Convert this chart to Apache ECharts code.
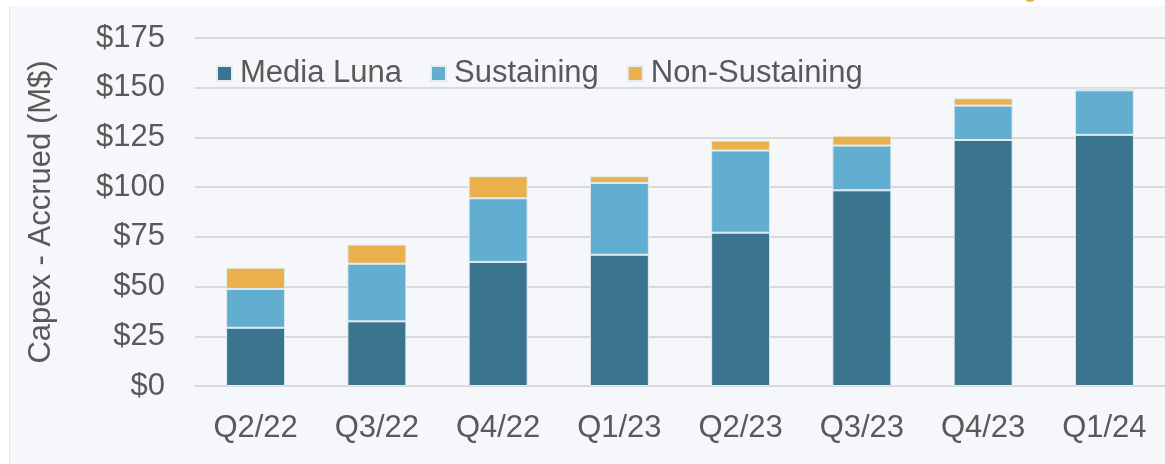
<!DOCTYPE html>
<html>
<head>
<meta charset="utf-8">
<script src="https://cdn.jsdelivr.net/npm/echarts@6/dist/echarts.min.js"></script>
<style>
  html, body { margin: 0; padding: 0; background: #ffffff; }
  #panel { position: absolute; left: 9px; top: 6px; width: 1156px; height: 458px; background: #f6f7fb; border-left: 1px solid #e3e5ea; }
  #chart { position: absolute; left: 0; top: 0; width: 1165px; height: 464px; }
</style>
</head>
<body>
<div id="panel"></div>
<div id="chart"></div>
<script>
// quarters
const quarters = ['Q2/22', 'Q3/22', 'Q4/22', 'Q1/23', 'Q2/23', 'Q3/23', 'Q4/23', 'Q1/24'];
// capex accrued, M$
const mediaLuna     = [29.3, 32.5, 62.4, 66.0, 77.1, 98.4, 123.7, 126.3];
const sustaining    = [19.5, 29.0, 32.0, 36.1, 41.3, 22.5, 17.3, 22.4];
const nonSustaining = [10.7, 9.6, 11.1, 3.4, 5.0, 5.0, 3.7, 1.2];

const textColor = '#595959';
const font = 'Liberation Sans, Arial, sans-serif';

let myChart = echarts.init(document.getElementById('chart'));

function barSeries(name, data, color) {
  return {
    name: name,
    type: 'bar',
    stack: 'capex',
    barWidth: 59,
    data: data,
    itemStyle: { color: color, borderColor: '#e2ecf2', borderWidth: 1 }
  };
}

myChart.setOption({
  backgroundColor: 'transparent',
  animation: false,
  textStyle: { fontFamily: font },
  graphic: [{
    type: 'circle',
    shape: { cx: 1030, cy: -5, r: 7 },
    style: { fill: '#ebb04e' }
  }],
  legend: {
    left: 211,
    top: 53,
    itemWidth: 15,
    itemHeight: 15,
    itemGap: 28,
    icon: 'rect',
    textStyle: { color: textColor, fontSize: 31, fontFamily: font, padding: [0, 0, 0, 3] },
    data: ['Media Luna', 'Sustaining', 'Non-Sustaining']
  },
  grid: {
    left: 195,
    right: 0,
    top: 38,
    bottom: 78
  },
  xAxis: {
    type: 'category',
    data: quarters,
    axisLine: { lineStyle: { color: '#d9d9d9', width: 2 } },
    axisTick: { show: false },
    axisLabel: { color: textColor, fontSize: 31, margin: 27, fontFamily: font }
  },
  yAxis: {
    type: 'value',
    min: 0,
    max: 175,
    interval: 25,
    name: 'Capex - Accrued (M$)',
    nameLocation: 'middle',
    nameGap: 138,
    nameTextStyle: { color: textColor, fontSize: 31, fontFamily: font },
    axisLabel: { color: textColor, fontSize: 31, margin: 30, fontFamily: font, formatter: '${value}' },
    splitLine: { lineStyle: { color: '#d9d9d9', width: 2 } }
  },
  series: [
    barSeries('Media Luna', mediaLuna, '#3b748f'),
    barSeries('Sustaining', sustaining, '#61aed0'),
    barSeries('Non-Sustaining', nonSustaining, '#ebb04e')
  ]
});
</script>
</body>
</html>
